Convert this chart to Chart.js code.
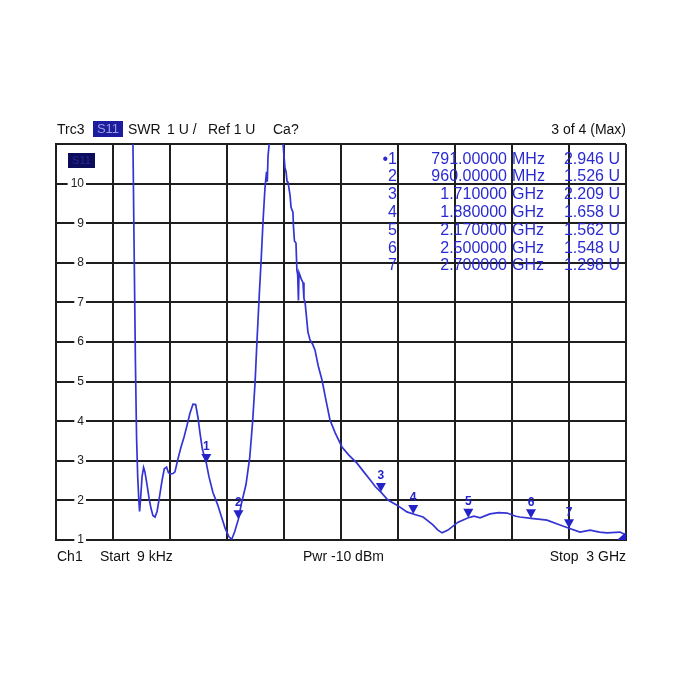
<!DOCTYPE html>
<html><head><meta charset="utf-8">
<script src="https://cdn.jsdelivr.net/npm/chart.js@4/dist/chart.umd.min.js"></script>
<style>
html,body{margin:0;padding:0;background:#fff;}
#wrap{position:relative;width:681px;height:681px;font-family:"Liberation Sans",Arial,sans-serif;overflow:hidden;}
canvas{position:absolute;left:0;top:0;}
.t{position:absolute;font-size:14px;line-height:14px;color:#111;white-space:pre;}
.m{position:absolute;font-size:16px;line-height:16px;color:#2a2ad2;white-space:pre;}
.r{text-align:right;}
</style></head>
<body><div id="wrap"><canvas id="c" width="681" height="681"></canvas></div>
<script>
// ---- data (frequency in MHz, SWR in U) ----
const freqMHz = [0.009, 300, 395, 405, 412, 418, 424, 430, 436, 440, 446, 453, 461, 468, 479, 490, 500, 510, 521, 532, 545, 558, 570, 582, 592, 603, 616, 626, 642, 658, 674, 690, 705, 721, 735, 747, 758, 770, 791, 805, 826, 850, 870, 890, 910, 925, 940, 960, 975, 1000, 1020, 1035, 1048, 1058, 1070, 1079, 1090, 1100, 1108, 1112, 1116, 1122, 1135, 1160, 1185, 1195, 1205, 1211, 1216, 1221, 1232, 1237, 1247, 1250, 1255, 1263, 1268, 1272, 1276, 1279, 1290, 1300, 1305, 1311, 1326, 1337, 1350, 1363, 1380, 1400, 1420, 1442, 1470, 1505, 1540, 1584, 1620, 1653, 1680, 1710, 1747, 1795, 1847, 1880, 1932, 1984, 2010, 2032, 2063, 2116, 2170, 2200, 2232, 2284, 2330, 2374, 2420, 2442, 2500, 2550, 2584, 2653, 2700, 2758, 2811, 2860, 2900, 2968, 3000];
const swr = [16, 15, 13, 11.0, 8.0, 5.5, 3.6, 2.6, 2.0, 1.72, 2.1, 2.6, 2.83, 2.72, 2.4, 2.05, 1.8, 1.62, 1.58, 1.72, 2.1, 2.5, 2.8, 2.84, 2.7, 2.67, 2.68, 2.72, 3.05, 3.35, 3.6, 3.9, 4.2, 4.43, 4.42, 4.1, 3.7, 3.3, 2.946, 2.6, 2.2, 1.9, 1.6, 1.3, 1.08, 1.02, 1.2, 1.526, 1.9, 2.4, 3.1, 4.0, 5.0, 6.05, 7.2, 8.0, 9.08, 9.9, 10.3, 10.05, 10.7, 11.0, 12.0, 13.0, 12.0, 11.0, 10.4, 10.3, 10.05, 10.04, 9.7, 9.4, 9.28, 8.9, 8.55, 8.5, 7.8, 7.7, 7.05, 7.75, 7.6, 7.5, 7.1, 7.0, 6.25, 6.05, 5.95, 5.8, 5.4, 5.04, 4.55, 4.03, 3.7, 3.35, 3.15, 2.94, 2.72, 2.52, 2.35, 2.209, 2.01, 1.88, 1.71, 1.658, 1.58, 1.38, 1.25, 1.18, 1.25, 1.45, 1.562, 1.6, 1.56, 1.66, 1.69, 1.68, 1.6, 1.58, 1.548, 1.52, 1.5, 1.38, 1.298, 1.2, 1.25, 1.2, 1.18, 1.2, 1.13];
const markerNums = [1, 2, 3, 4, 5, 6, 7];
const markerFreqMHz = [791, 960, 1710, 1880, 2170, 2500, 2700];
const markerSwr = [2.946, 1.526, 2.209, 1.658, 1.562, 1.548, 1.298];
const yTickLabels = ['1','2','3','4','5','6','7','8','9','10'];
const headerItems = [['Trc3',57],['SWR',128],['1 U /',167],['Ref 1 U',208],['Ca?',273]];
const footerItems = [['Ch1',57],['Start',100],['9 kHz',137],['Pwr -10 dBm',303]];

const wrap = document.getElementById('wrap');
function addText(txt, cls, css){
  const d = document.createElement('div');
  d.className = cls; d.textContent = txt;
  Object.assign(d.style, css); wrap.appendChild(d); return d;
}
// header
headerItems.forEach(([t,x])=>addText(t,'t',{left:x+'px',top:'122px'}));
addText('S11','t',{left:'93px',top:'121px',width:'30px',height:'16px',lineHeight:'16px',background:'#1c1c9e',color:'#9c9ce0',textAlign:'center',fontSize:'13px'});
addText('3 of 4 (Max)','t r',{right:(681-626)+'px',top:'122px'});
// footer
footerItems.forEach(([t,x])=>addText(t,'t',{left:x+'px',top:'549px'}));
addText('Stop  3 GHz','t r',{right:(681-626)+'px',top:'549px'});
// S11 badge in plot
addText('S11','t',{left:'68px',top:'153px',width:'27px',height:'15px',lineHeight:'15px',background:'#0c0c5c',color:'#25258c',textAlign:'center',fontSize:'11px'});
// marker table
markerNums.forEach((n,i)=>{
  const top = (150.5 + i*17.8)+'px';
  const f = markerFreqMHz[i];
  const fs = f < 1000 ? f.toFixed(5) : (f/1000).toFixed(6);
  const unit = f < 1000 ? 'MHz' : 'GHz';
  addText((i===0?'\u2022':'')+n,'m r',{right:(681-397)+'px',top});
  addText(fs,'m r',{right:(681-507)+'px',top});
  addText(unit,'m',{left:'512px',top});
  addText(markerSwr[i].toFixed(3)+' U','m r',{right:(681-620)+'px',top});
});

const overlay = {
  id:'overlay',
  afterDatasetsDraw(chart){
    const ctx = chart.ctx, ys = chart.scales.y, ca = chart.chartArea;
    ctx.save();
    // y tick labels inside plot with white backdrop
    ctx.font = '12px "Liberation Sans", Arial, sans-serif';
    ctx.textAlign = 'right'; ctx.textBaseline = 'middle';
    yTickLabels.forEach(l=>{
      const y = ys.getPixelForValue(Number(l));
      const w = ctx.measureText(l).width;
      ctx.fillStyle = '#fff';
      ctx.fillRect(84 - w - 3, y - 3, w + 5, 6);
      ctx.fillStyle = '#222';
      ctx.fillText(l, 84, y);
    });
    // markers
    const meta = chart.getDatasetMeta(1);
    ctx.fillStyle = '#2323c8';
    ctx.font = 'bold 12px "Liberation Sans", Arial, sans-serif';
    ctx.textAlign = 'center';
    meta.data.forEach((p,i)=>{
      ctx.beginPath();
      ctx.moveTo(p.x, p.y);
      ctx.lineTo(p.x - 5, p.y - 9);
      ctx.lineTo(p.x + 5, p.y - 9);
      ctx.closePath(); ctx.fill();
      ctx.fillText(String(markerNums[i]), p.x, p.y - 16);
    });
    // stop flag at bottom-right
    ctx.beginPath();
    ctx.moveTo(ca.right, ca.bottom - 8);
    ctx.lineTo(ca.right, ca.bottom);
    ctx.lineTo(ca.right - 9, ca.bottom);
    ctx.closePath(); ctx.fill();
    ctx.restore();
  }
};

const gridCol = '#1e1e1e';
new Chart(document.getElementById('c'), {
  type:'line',
  data:{datasets:[
    {data: freqMHz.map((f,i)=>({x:f,y:swr[i]})), borderColor:'#3434d4', borderWidth:1.7, pointRadius:0, tension:0},
    {data: markerFreqMHz.map((f,i)=>({x:f,y:markerSwr[i]})), showLine:false, pointRadius:0, borderColor:'#2323c8'}
  ]},
  options:{
    responsive:false, animation:false, devicePixelRatio:1,
    layout:{padding:{left:56,right:55,top:144,bottom:141}},
    plugins:{legend:{display:false}, tooltip:{enabled:false}},
    scales:{
      x:{type:'linear',min:0,max:3000,ticks:{display:false,stepSize:300},grid:{color:gridCol,lineWidth:2,drawTicks:false},border:{color:gridCol,width:2}},
      y:{type:'linear',min:1,max:11,ticks:{display:false,stepSize:1},grid:{color:gridCol,lineWidth:2,drawTicks:false},border:{color:gridCol,width:2}}
    }
  },
  plugins:[overlay]
});
</script>
</body></html>
